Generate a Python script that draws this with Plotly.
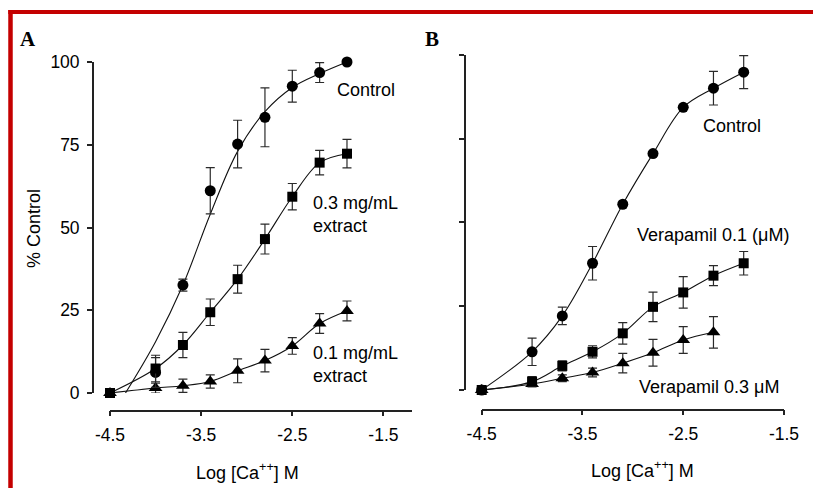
import plotly.graph_objects as go

W, H = 813, 488

# ---------------- Panel A data ----------------
xA = [-4.5, -4.0, -3.7, -3.4, -3.1, -2.8, -2.5, -2.2, -1.9]
ctrlA_x = [-4.0, -3.7, -3.4, -3.1, -2.8, -2.5, -2.2, -1.9]
ctrlA_y = [6.2, 32.6, 61.1, 75.2, 83.3, 92.7, 96.8, 100.0]
ctrlA_err = [4.5, 1.8, 7.0, 7.2, 8.9, 4.8, 3.0, 0.0]
# fitted curve of the control
ctrlA_fit_x = [-4.33, -4.0, -3.7, -3.4, -3.1, -2.8, -2.5, -2.2, -1.9]
ctrlA_fit_y = [0.0, 15.5, 32.6, 54.0, 73.0, 85.0, 92.3, 96.5, 100.0]
ext03_y = [0.0, 7.4, 14.5, 24.4, 34.4, 46.5, 59.3, 69.6, 72.3]
ext03_err = [0.0, 4.0, 3.8, 4.0, 4.2, 4.5, 4.0, 3.7, 4.3]
ext01_y = [0.0, 1.5, 2.2, 3.5, 6.7, 9.8, 14.2, 21.0, 24.8]
ext01_err = [0.0, 1.5, 2.0, 2.0, 3.6, 3.4, 2.5, 3.0, 3.0]

# ---------------- Panel B data ----------------
xB = [-4.5, -4.0, -3.7, -3.4, -3.1, -2.8, -2.5, -2.2, -1.9]
ctrlB_y = [0.0, 11.4, 22.1, 37.8, 55.4, 70.5, 84.3, 90.0, 94.8]
ctrlB_err = [0.0, 4.1, 2.6, 5.0, 0.0, 0.0, 0.0, 5.0, 4.9]
ver01_y = [0.0, 2.5, 7.2, 11.4, 16.9, 24.8, 29.1, 34.1, 37.8]
ver01_err = [0.0, 1.5, 1.5, 1.8, 3.2, 4.4, 4.7, 3.0, 3.5]
xB3 = [-4.5, -4.0, -3.7, -3.4, -3.1, -2.8, -2.5, -2.2]
ver03_y = [0.0, 1.8, 3.5, 5.2, 8.0, 11.1, 14.9, 17.2]
ver03_err = [0.0, 0.8, 1.0, 1.3, 2.9, 4.0, 4.0, 4.7]

x_tickvals = [-4.5, -3.5, -2.5, -1.5]
x_ticktext = ["-4.5", "-3.5", "-2.5", "-1.5"]
y_tickvals = [0, 25, 50, 75, 100]
y_ticktext = ["0", "25", "50", "75", "100"]

FONT = "Liberation Sans, Arial, sans-serif"
FS = 18
FS_TICK = 17.5
INK = "#111111"


def fx(px):
    return px / W


def fy(py):
    return 1 - py / H


fig = go.Figure()


def line(x, y, xa, ya):
    fig.add_trace(go.Scatter(x=x, y=y, mode="lines", line=dict(color=INK, width=1.1, shape="spline"),
                             xaxis=xa, yaxis=ya, showlegend=False, hoverinfo="skip"))


def marks(x, y, err, symbol, size, xa, ya):
    fig.add_trace(go.Scatter(x=x, y=y, mode="markers",
                             marker=dict(symbol=symbol, size=size, color="black"),
                             error_y=dict(type="data", array=err, visible=True, color="#2a2a2a",
                                          thickness=1.2, width=4.5),
                             cliponaxis=False, xaxis=xa, yaxis=ya, showlegend=False))


# Panel A
line(ctrlA_fit_x, ctrlA_fit_y, "x", "y")
line(xA, ext03_y, "x", "y")
line(xA, ext01_y, "x", "y")
marks(xA, ext01_y, ext01_err, "triangle-up", 12, "x", "y")
marks(ctrlA_x, ctrlA_y, ctrlA_err, "circle", 11, "x", "y")
marks(xA, ext03_y, ext03_err, "square", 10, "x", "y")

# Panel B
line(xB, ctrlB_y, "x2", "y2")
line(xB, ver01_y, "x2", "y2")
line(xB3, ver03_y, "x2", "y2")
marks(xB3, ver03_y, ver03_err, "triangle-up", 12, "x2", "y2")
marks(xB, ctrlB_y, ctrlB_err, "circle", 11, "x2", "y2")
marks(xB, ver01_y, ver01_err, "square", 10, "x2", "y2")

axis_common = dict(showline=True, linecolor="#222222", linewidth=1.8, ticks="outside", ticklen=5,
                   tickwidth=1.5, tickcolor="#222222", showgrid=False, zeroline=False,
                   tickfont=dict(family=FONT, size=FS_TICK, color="black"), fixedrange=True)

fig.update_layout(
    width=W, height=H, autosize=False,
    margin=dict(l=0, r=0, t=0, b=0, autoexpand=False),
    paper_bgcolor="white", plot_bgcolor="white",
    font=dict(family=FONT, size=FS, color="black"),
    xaxis=dict(domain=[fx(110), fx(411.7)], range=[-4.5, -1.19], anchor="free", position=fy(410.5),
               tickvals=x_tickvals, ticktext=x_ticktext, ticklabelstandoff=4, **axis_common),
    yaxis=dict(domain=[fy(393), fy(62)], range=[0, 100], anchor="free", position=fx(93),
               tickvals=y_tickvals, ticktext=y_ticktext, ticklabelstandoff=4, **axis_common),
    xaxis2=dict(domain=[fx(481.7), fx(784)], range=[-4.5, -1.5], anchor="free", position=fy(409.5),
                tickvals=x_tickvals, ticktext=x_ticktext, ticklabelstandoff=4, **axis_common),
    yaxis2=dict(domain=[fy(390), fy(54.7)], range=[0, 100], anchor="free", position=fx(465),
                tickvals=y_tickvals, showticklabels=False, **axis_common),
)

RED = "#c40000"
fig.add_shape(type="line", xref="paper", yref="paper", x0=fx(10.5), x1=fx(10.5), y0=fy(10), y1=0,
              line=dict(color=RED, width=4.5))
fig.add_shape(type="line", xref="paper", yref="paper", x0=fx(8.3), x1=1, y0=fy(12), y1=fy(12),
              line=dict(color=RED, width=4))


def note(text, px, py, size=FS, xanchor="left", family=FONT, angle=0):
    fig.add_annotation(text=text, xref="paper", yref="paper", x=fx(px), y=fy(py), showarrow=False,
                       xanchor=xanchor, yanchor="middle", align="left", textangle=angle,
                       font=dict(family=family, size=size, color="black"))


SERIF = "Liberation Serif, Times New Roman, serif"
note("<b>A</b>", 18, 39, size=21, family=SERIF)
note("<b>B</b>", 423, 39, size=21, family=SERIF)

note("Control", 335, 90)
note("0.3 mg/mL<br>extract", 311, 214)
note("0.1 mg/mL<br>extract", 311, 364)
note("Control", 701, 126)
note("Verapamil 0.1 (μM)", 635, 235)
note("Verapamil 0.3 μM", 637, 387)

note("% Control", 34, 229, xanchor="center", angle=-90)
note("Log [Ca<sup>++</sup>] M", 247, 471, xanchor="center")
note("Log [Ca<sup>++</sup>] M", 642, 469, xanchor="center")

fig.write_html("out.html", config={"responsive": False, "displayModeBar": False},
               post_script="document.documentElement.style.margin='0';document.body.style.margin='0';"
                           "document.body.style.padding='0';document.body.style.overflow='hidden';")
